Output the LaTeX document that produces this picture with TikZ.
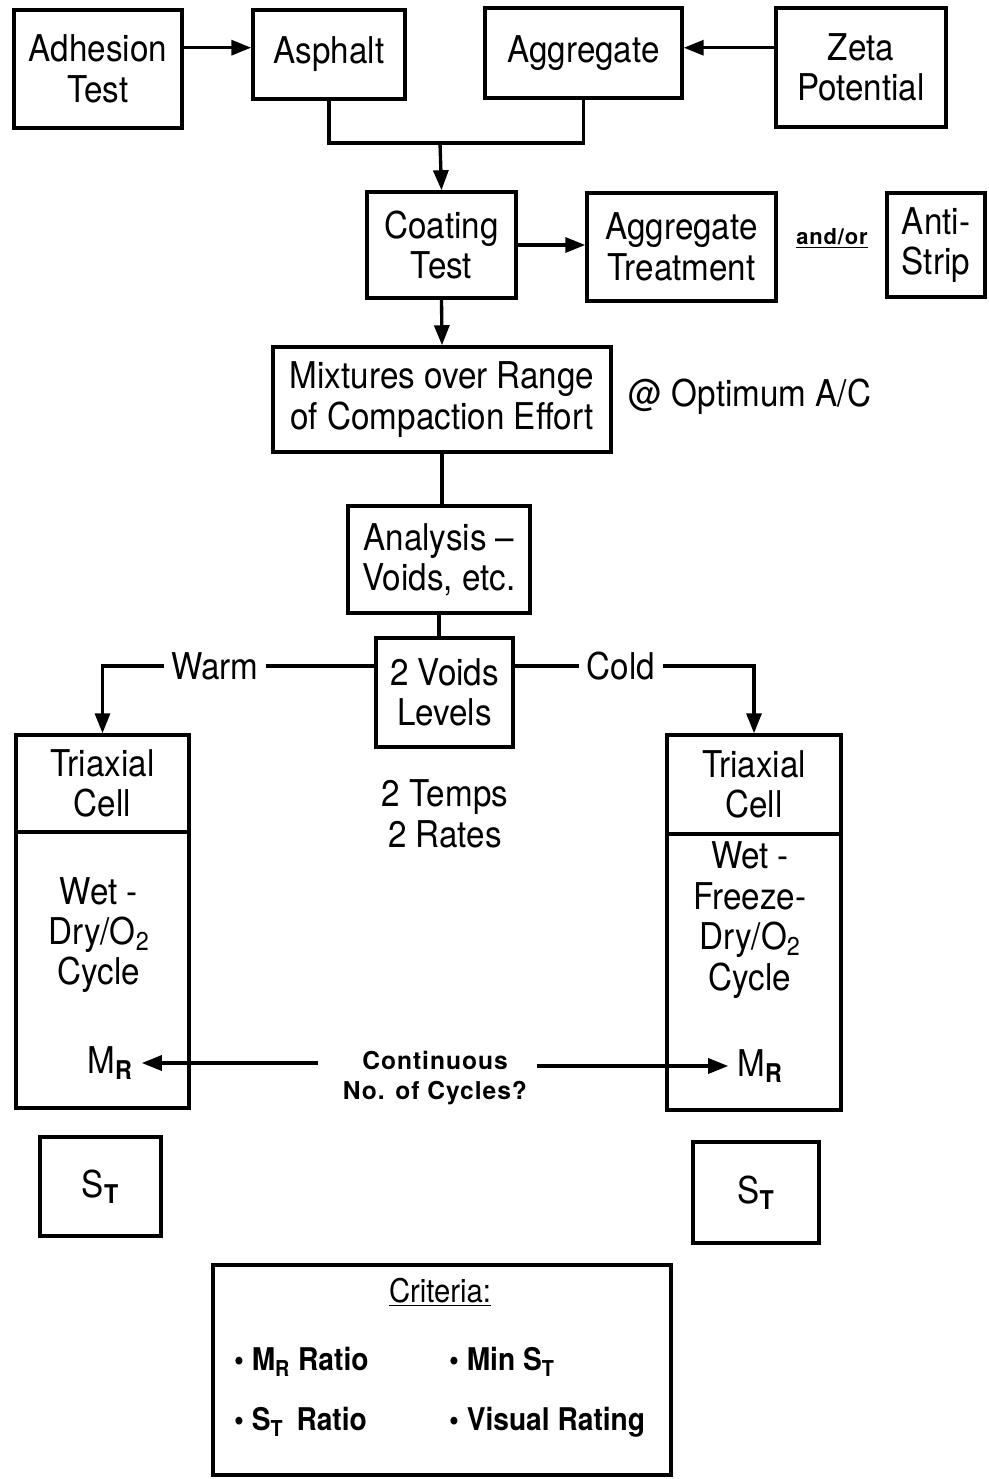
\documentclass[tikz,border=0pt]{standalone}
\usepackage{fontspec}
\setmainfont{TeX Gyre Heros}[FakeStretch=0.9]
\newfontfamily\wideBold{TeX Gyre Heros}[LetterSpace=4]
\usepackage{tikz}
\usetikzlibrary{positioning, arrows.meta, calc}
\tikzset{
  flowBox/.style={
    draw,
    rectangle,
    line width=2pt,
    align=center,
    inner sep=1pt,
    font=\fontsize{21}{23}\selectfont
  },
  flowText/.style={
    align=center,
    inner sep=1pt,
    font=\fontsize{21}{23}\selectfont
  },
  flowLabel/.style={
    inner sep=4pt,
    font=\fontsize{21}{23}\selectfont
  },
  noteText/.style={
    align=center,
    inner sep=1pt,
    font=\wideBold\bfseries\fontsize{14}{17}\selectfont
  },
  critText/.style={
    anchor=west,
    inner sep=1pt,
    font=\bfseries\fontsize{17.8}{20}\selectfont
  },
  flowLine/.style={line width=1.9pt},
  flowArrow/.style={
    line width=1.9pt,
    -{Triangle[length=0.4cm,width=0.3cm]}
  }
}

\begin{document}
\begin{tikzpicture}[x=0.02cm, y=-0.02cm]
  \useasboundingbox (0,0) rectangle (989,1479);
  % top row
  \node[flowBox, minimum width=3.36cm, minimum height=2.36cm] (adhesion) at (98,69) {Adhesion\\Test};
  \node[flowBox, minimum width=3.04cm, minimum height=1.78cm] (asphalt) at (329,54.5) {Asphalt};
  \node[flowBox, minimum width=3.94cm, minimum height=1.8cm] (aggregate) at (583.5,53) {Aggregate};
  \node[flowBox, minimum width=3.4cm, minimum height=2.38cm] (zeta) at (861,67.5) {Zeta\\Potential};
  \coordinate (join) at (440,143);

  \node[flowBox, minimum width=2.98cm, minimum height=2.12cm] (coating) at (441.5,245) {Coating\\Test};
  \node[flowBox, minimum width=3.78cm, minimum height=2.16cm] (treatment) at (681.5,247) {Aggregate\\Treatment};
  \node[noteText, font=\wideBold\bfseries\fontsize{12.5}{14}\selectfont] (andor) at (832,238) {\underline{and/or}};
  \node[flowBox, minimum width=1.96cm, minimum height=2.08cm] (antistrip) at (936,245) {Anti-\\Strip};

  \node[flowBox, minimum width=6.76cm, minimum height=2.1cm] (mixtures) at (442,399.5) {Mixtures over Range\\of Compaction Effort};
  \node[flowText] (optimum) at (750,397) {@ Optimum A/C};
  \node[flowBox, minimum width=3.64cm, minimum height=2.14cm] (analysis) at (439,559.5) {Analysis --\\Voids, etc.};
  \node[flowBox, minimum width=2.74cm, minimum height=2.18cm] (voids) at (444.5,692.5) {2 Voids\\Levels};
  \node[flowLabel] (warm) at (215,666) {Warm};
  \node[flowLabel] (cold) at (621,666) {Cold};
  \node[flowText] (temps) at (445,814) {2 Temps\\2 Rates};

  % triaxial cells
  \node[flowBox, minimum width=3.46cm, minimum height=1.94cm] (cellLtop) at (102.5,783.5) {Triaxial\\Cell};
  \node[flowBox, minimum width=3.46cm, minimum height=5.52cm] (cellLbot) at (102.5,970) {};
  \node[flowText] (cycleL) at (99,935) {Wet -\\Dry/O\textsubscript{2}\\Cycle};
  \node[flowText, inner sep=5pt] (mrLeft) at (110,1063) {M\textsubscript{\textbf{R}}};
  \node[flowBox, minimum width=3.48cm, minimum height=1.98cm] (cellRtop) at (754,784.5) {Triaxial\\Cell};
  \node[flowBox, minimum width=3.48cm, minimum height=5.52cm] (cellRbot) at (754,972) {};
  \node[flowText] (cycleR) at (750,920) {Wet -\\Freeze-\\Dry/O\textsubscript{2}\\Cycle};
  \node[flowText, inner sep=5pt] (mrRight) at (760,1066) {M\textsubscript{\textbf{R}}};
  \node[noteText] (cycles) at (435,1078) {Continuous\\No. of Cycles?};

  \node[flowBox, minimum width=2.42cm, minimum height=1.98cm] (stLeft) at (100.5,1186.5) {S\textsubscript{\textbf{T}}};
  \node[flowBox, minimum width=2.52cm, minimum height=2.02cm] (stRight) at (756,1192.5) {S\textsubscript{\textbf{T}}};

  % criteria
  \node[flowBox, minimum width=9.16cm, minimum height=4.2cm] (criteria) at (442,1370) {};
  \node[flowText, font=\fontsize{18.5}{20}\selectfont] (critTitle) at (440,1292) {\underline{Criteria:}};
  \node[critText] (critA) at (232,1362) {\textbullet\ M\textsubscript{R} Ratio};
  \node[critText] (critB) at (447,1362) {\textbullet\ Min S\textsubscript{T}};
  \node[critText] (critC) at (232,1422) {\textbullet\ S\textsubscript{T}\, Ratio};
  \node[critText] (critD) at (447,1422) {\textbullet\ Visual Rating};

  % connectors
  \draw[flowArrow] (adhesion.east |- asphalt.175) -- (asphalt.175);
  \draw[flowArrow] (zeta.west |- aggregate.3) -- (aggregate.3);
  \draw[flowLine] (asphalt.south) |- (join) -| (aggregate.south);
  \draw[flowArrow] (join) -- (coating.north);
  \draw[flowArrow] (coating.east) -- (coating.east -| treatment.west);
  \draw[flowArrow] (coating.south) -- (mixtures.north);
  \draw[flowLine] (mixtures.south) -- (mixtures.south |- analysis.north);
  \draw[flowLine] (analysis.south) -- (analysis.south |- voids.north);
  \draw[flowLine] (voids.west |- warm.east) -- (warm.east);
  \draw[flowArrow] (warm.west) -| (cellLtop.north);
  \draw[flowLine] (voids.east |- cold.west) -- (cold.west);
  \draw[flowArrow] (cold.east) -| (cellRtop.north);
  \draw[flowArrow, shorten <=0.45cm] (cycles.west |- mrLeft.east) -- (mrLeft.east);
  \draw[flowArrow, shorten <=0.15cm] (cycles.east |- mrRight.west) -- (mrRight.west);
\end{tikzpicture}
\end{document}
